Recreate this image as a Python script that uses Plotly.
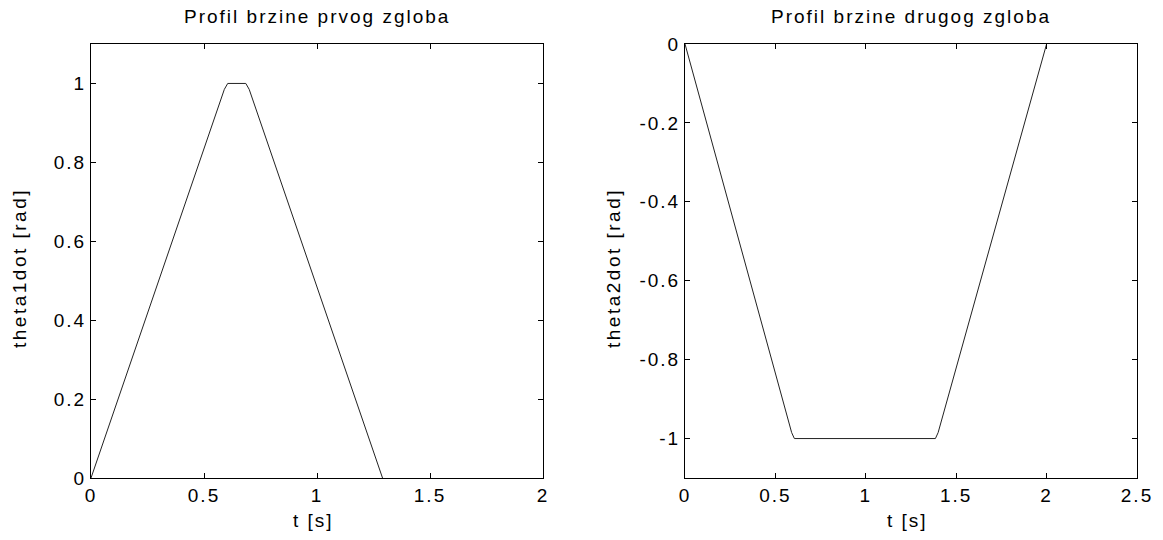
import plotly.graph_objects as go

# Joint 1 velocity profile (breakpoints)
t1 = [0.0, 0.59, 0.605, 0.685, 0.70, 1.29]
v1 = [0.0, 0.985, 1.0, 1.0, 0.985, 0.0]

# Joint 2 velocity profile
t2 = [0.0, 0.59, 0.605, 1.385, 1.40, 2.0]
v2 = [0.0, -0.985, -1.0, -1.0, -0.985, 0.0]

x1_ticks = [0, 0.5, 1, 1.5, 2]
x1_labels = ["0", "0.5", "1", "1.5", "2"]
y1_ticks = [0, 0.2, 0.4, 0.6, 0.8, 1]
y1_labels = ["0", "0.2", "0.4", "0.6", "0.8", "1"]
x2_ticks = [0, 0.5, 1, 1.5, 2, 2.5]
x2_labels = ["0", "0.5", "1", "1.5", "2", "2.5"]
y2_ticks = [0, -0.2, -0.4, -0.6, -0.8, -1]
y2_labels = ["0", "-0.2", "-0.4", "-0.6", "-0.8", "-1"]

titles = ["Profil brzine prvog zgloba", "Profil brzine drugog zgloba"]
xtitles = ["t [s]", "t [s]"]
ytitles = ["theta1dot [rad]", "theta2dot [rad]"]

FONT = "Liberation Sans, Arial, sans-serif"
FS = 19


def sp(s, ls=2):
    return f'<span style="letter-spacing:{ls}px">{s}</span>'


fig = go.Figure()
fig.add_trace(go.Scatter(x=t1, y=v1, mode="lines", line=dict(color="#222", width=1),
                         xaxis="x", yaxis="y", showlegend=False))
fig.add_trace(go.Scatter(x=t2, y=v2, mode="lines", line=dict(color="#222", width=1),
                         xaxis="x2", yaxis="y2", showlegend=False))

ydom = [62 / 540, 496 / 540]
dom1 = [91 / 1163, 543 / 1163]
dom2 = [685 / 1163, 1137 / 1163]

common = dict(showline=True, linecolor="black", linewidth=1, mirror="ticks",
              ticks="inside", ticklen=5, tickcolor="black", showgrid=False,
              zeroline=False, automargin=False,
              tickfont=dict(family=FONT, size=FS, color="black"))

fig.update_layout(
    width=1163, height=540,
    margin=dict(l=0, r=0, t=0, b=0),
    paper_bgcolor="white", plot_bgcolor="white",
    xaxis=dict(domain=dom1, range=[0, 2], tickvals=x1_ticks,
               ticktext=[sp(s) for s in x1_labels], anchor="y", **common),
    yaxis=dict(domain=ydom, range=[0, 1.1], tickvals=y1_ticks,
               ticktext=[sp(s) for s in y1_labels], anchor="x", **common),
    xaxis2=dict(domain=dom2, range=[0, 2.5], tickvals=x2_ticks,
                ticktext=[sp(s) for s in x2_labels], anchor="y2", **common),
    yaxis2=dict(domain=ydom, range=[-1.1, 0], tickvals=y2_ticks,
                ticktext=[sp(s) for s in y2_labels], anchor="x2", **common),
)

centers = [(dom1[0] + dom1[1]) / 2, (dom2[0] + dom2[1]) / 2]
ylab_x = [20 / 1163, 614 / 1163]
for i in range(2):
    fig.add_annotation(text=sp(titles[i]), x=centers[i], y=1 - 17 / 540,
                       xref="paper", yref="paper", showarrow=False,
                       xanchor="center", yanchor="middle",
                       font=dict(family=FONT, size=FS, color="black"))
    fig.add_annotation(text=sp(xtitles[i]), x=centers[i] - 4 / 1163, y=1 - 520 / 540,
                       xref="paper", yref="paper", showarrow=False,
                       xanchor="center", yanchor="middle",
                       font=dict(family=FONT, size=FS, color="black"))
    fig.add_annotation(text=sp(ytitles[i], 2.5), x=ylab_x[i], y=1 - 268 / 540,
                       xref="paper", yref="paper", showarrow=False, textangle=-90,
                       xanchor="center", yanchor="middle",
                       font=dict(family=FONT, size=FS, color="black"))

fig.write_html("out.html", config={"displayModeBar": False},
               post_script="document.body.style.margin='0';document.body.style.overflow='hidden';")
